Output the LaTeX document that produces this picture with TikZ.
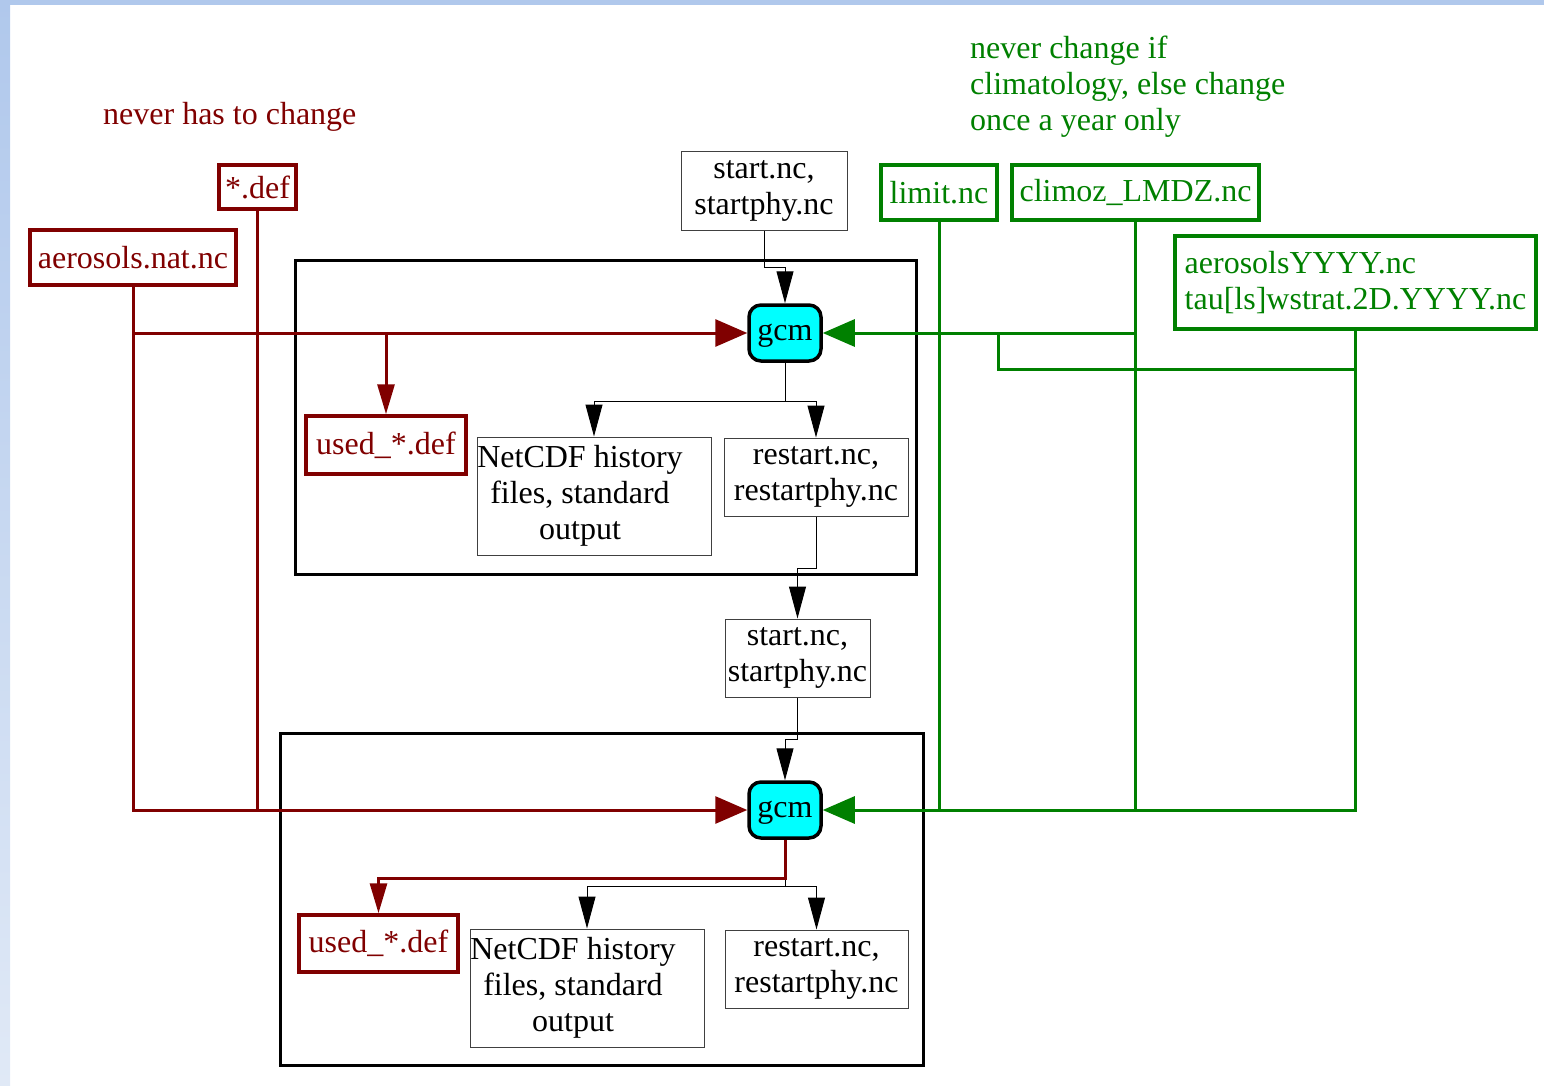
\documentclass[tikz,border=0pt]{standalone}
\usepackage{fontspec}
\setmainfont{Liberation Serif}
\usetikzlibrary{arrows.meta}
\definecolor{fixred}{RGB}{128,0,0}
\definecolor{yeargreen}{RGB}{0,128,0}
\definecolor{gcmcyan}{RGB}{0,255,255}
\definecolor{edgeblue}{RGB}{176,200,236}
\definecolor{edgepale}{RGB}{224,233,246}
\newcommand{\histtext}{\begin{tabular}{@{}c@{}}NetCDF history\\files, standard\\output\end{tabular}\hspace*{28pt}}

\begin{document}
\begin{tikzpicture}[x=1pt, y=-1pt,
	font=\fontsize{32}{36}\selectfont,
	redfile/.style={draw=fixred, text=fixred, line width=3.5pt, inner sep=0pt},
	greenfile/.style={draw=yeargreen, text=yeargreen, line width=3.5pt, inner sep=0pt},
	blackfile/.style={draw=black!75, line width=1pt, inner sep=0pt, align=center},
	runbox/.style={draw=black, line width=3pt, inner sep=0pt},
	gcmbox/.style={draw=black, fill=gcmcyan, line width=3.5pt, rounded corners=12pt,
		inner sep=0pt, minimum width=72pt, minimum height=56pt},
	redline/.style={fixred, line width=3pt},
	greenline/.style={yeargreen, line width=3pt},
	blackline/.style={black, line width=1pt},
	bigtip/.style={-{Triangle[length=32pt,width=27pt]}},
	medtip/.style={-{Triangle[length=30pt,width=17pt]}},
	thintip/.style={-{Triangle[length=32pt,width=17pt]}}]
				% screen edge
				\shade[top color=edgeblue, bottom color=edgepale] (0,0) rectangle (10,1086);
				\fill[edgeblue] (0,0) rectangle (1544,5);
				\useasboundingbox (0,0) rectangle (1544,1086);
				% notes
				\node[text=fixred, inner sep=0pt, anchor=base west] (fixnote) at (103,125) {never has to change};
				\node[text=yeargreen, inner sep=0pt, anchor=west, align=left] (yearnote) at (970,86.5)
				{never change if\\climatology, else change\\once a year only};
				% two runs
				\node[runbox, minimum width=621pt, minimum height=314pt] (run1) at (605.5,417) {};
				\node[runbox, minimum width=643pt, minimum height=332pt] (run2) at (601.5,899) {};
				% input files
				\node[redfile, minimum width=77pt, minimum height=44pt] (def) at (257.5,187) {*.def};
				\node[redfile, minimum width=206pt, minimum height=55pt] (aernat) at (133,257.5) {aerosols.nat.nc};
				\node[blackfile, minimum width=166pt, minimum height=79pt] (start1) at (764,191) {start.nc,\\startphy.nc};
				\node[greenfile, minimum width=116pt, minimum height=55pt] (limit) at (939,192.5) {limit.nc};
				\node[greenfile, minimum width=247pt, minimum height=55pt] (climoz) at (1135.5,192.5) {climoz\_LMDZ.nc};
				\node[greenfile, minimum width=361pt, minimum height=93pt, align=left] (aeryear) at (1355.5,282.5)
				{aerosolsYYYY.nc\\tau[ls]wstrat.2D.YYYY.nc};
				% first run
				\node[gcmbox] (gcm1) at (785,333) {\strut gcm};
				\node[redfile, minimum width=160pt, minimum height=58pt] (used1) at (386,445) {used\_*.def};
				\node[blackfile, minimum width=234pt, minimum height=118pt] (hist1) at (594,496) {\histtext};
				\node[blackfile, minimum width=184pt, minimum height=78pt] (rst1) at (816,477) {restart.nc,\\restartphy.nc};
				\node[blackfile, minimum width=145pt, minimum height=78pt] (start2) at (797.5,658) {start.nc,\\startphy.nc};
				% second run
				\node[gcmbox] (gcm2) at (785,810) {\strut gcm};
				\node[redfile, minimum width=159pt, minimum height=57pt] (used2) at (378.5,943.5) {used\_*.def};
				\node[blackfile, minimum width=234pt, minimum height=118pt] (hist2) at (587,988) {\histtext};
				\node[blackfile, minimum width=183pt, minimum height=78pt] (rst2) at (816.5,969) {restart.nc,\\restartphy.nc};
				% black
				\draw[blackline, thintip] (start1.south) -- ++(0,36) -| (gcm1.north);
				\draw[blackline, thintip] (gcm1.south) -- ++(0,39) -| (hist1.north);
				\draw[blackline, thintip] (gcm1.south) -- ++(0,39) -| (rst1.north);
				\draw[blackline, thintip] (rst1.south) -- ++(0,52) -| (start2.north);
				\draw[blackline, thintip] (start2.south) -- ++(0,42) -| (gcm2.north);
				\draw[blackline, thintip] (gcm2.south) -- ++(0,47) -| (hist2.north);
				\draw[blackline, thintip] (gcm2.south) -- ++(0,47) -| (rst2.north);
				% red
				\draw[redline] (def.south) -- (def.south |- gcm2.west);
				\draw[redline, bigtip] (aernat.south) |- (gcm2.west);
				\draw[redline, bigtip] (aernat.south |- gcm1.west) -- (gcm1.west);
				\draw[redline, medtip] (used1.north |- gcm1.west) -- (used1.north);
				\draw[redline, medtip] (gcm2.south) -- ++(0,39) -| (used2.north);
				% green
				\coordinate (yearjoin) at (998,369);
				\draw[greenline] (limit.south) -- (limit.south |- gcm2.east);
				\draw[greenline] (climoz.south) -- (climoz.south |- gcm2.east);
				\draw[greenline, bigtip] (climoz.south |- gcm1.east) -- (gcm1.east);
				\draw[greenline, bigtip] (aeryear.south) |- (gcm2.east);
				\draw[greenline] (aeryear.south |- yearjoin) -- (yearjoin) -- (yearjoin |- gcm1.east);
\end{tikzpicture}
\end{document}
